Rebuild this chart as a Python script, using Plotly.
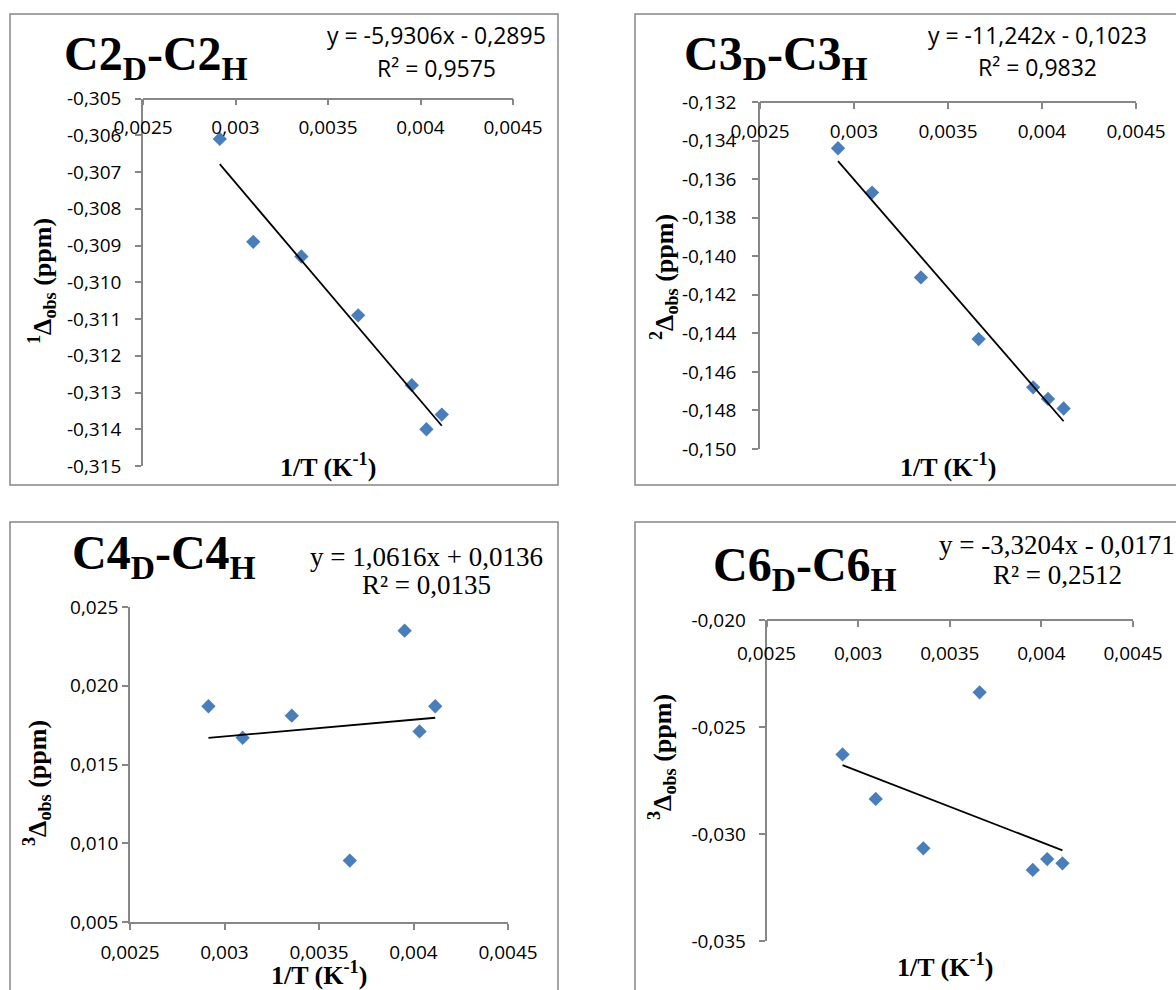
import plotly.graph_objects as go

# ---------------- data ----------------
inv_T = [0.002915, 0.003096, 0.003356, 0.003663, 0.003953, 0.004032, 0.004115]

delta_c2 = [-0.3061, -0.3089, -0.3093, -0.3109, -0.3128, -0.3140, -0.3136]
delta_c3 = [-0.1344, -0.1367, -0.1411, -0.1443, -0.1468, -0.1474, -0.1479]
delta_c4 = [0.0187, 0.0167, 0.0181, 0.0089, 0.0235, 0.0171, 0.0187]
delta_c6 = [-0.02628, -0.02836, -0.03067, -0.02338, -0.03168, -0.03117, -0.03137]

fit_slope = [-5.9306, -11.242, 1.0616, -3.3204]
fit_intercept = [-0.2895, -0.1023, 0.0136, -0.0171]
fit_r2 = [0.9575, 0.9832, 0.0135, 0.2512]

panel_titles = ["C2<sub>D</sub>-C2<sub>H</sub>", "C3<sub>D</sub>-C3<sub>H</sub>",
                "C4<sub>D</sub>-C4<sub>H</sub>", "C6<sub>D</sub>-C6<sub>H</sub>"]
y_titles = ["<sup>1</sup>Δ<sub>obs</sub> (ppm)", "<sup>2</sup>Δ<sub>obs</sub> (ppm)",
            "<sup>3</sup>Δ<sub>obs</sub> (ppm)", "<sup>3</sup>Δ<sub>obs</sub> (ppm)"]
x_title = "1/T (K<sup>-1</sup>)"

x_tick_vals = [0.0025, 0.003, 0.0035, 0.004, 0.0045]
x_tick_text = ["0,0025", "0,003", "0,0035", "0,004", "0,0045"]

y_tick_vals_c2 = [-0.305, -0.306, -0.307, -0.308, -0.309, -0.310,
                  -0.311, -0.312, -0.313, -0.314, -0.315]
y_tick_text_c2 = ["-0,305", "-0,306", "-0,307", "-0,308", "-0,309", "-0,310",
                  "-0,311", "-0,312", "-0,313", "-0,314", "-0,315"]
y_tick_vals_c3 = [-0.132, -0.134, -0.136, -0.138, -0.140,
                  -0.142, -0.144, -0.146, -0.148, -0.150]
y_tick_text_c3 = ["-0,132", "-0,134", "-0,136", "-0,138", "-0,140",
                  "-0,142", "-0,144", "-0,146", "-0,148", "-0,150"]
y_tick_vals_c4 = [0.005, 0.010, 0.015, 0.020, 0.025]
y_tick_text_c4 = ["0,005", "0,010", "0,015", "0,020", "0,025"]
y_tick_vals_c6 = [-0.020, -0.025, -0.030, -0.035]
y_tick_text_c6 = ["-0,020", "-0,025", "-0,030", "-0,035"]

series = [delta_c2, delta_c3, delta_c4, delta_c6]
y_ticks = [(y_tick_vals_c2, y_tick_text_c2), (y_tick_vals_c3, y_tick_text_c3),
           (y_tick_vals_c4, y_tick_text_c4), (y_tick_vals_c6, y_tick_text_c6)]

# ---------------- layout (pixels) ----------------
W, H = 1176, 990
SANS = "Open Sans"
SERIF = "Liberation Serif"
GRID = "#878787"
BLUE = "#4A7EBB"


def fx(p):
    return p / W


def fy(p):
    return 1 - p / H


# plot rectangles in pixels; xtop puts the x axis line along the top edge
plots = [
    dict(l=143, r=513, t=98.5, b=466, xtop=True, ystand=10, xstand=6),
    dict(l=760, r=1136, t=102, b=449, xtop=True, ystand=12, xstand=6),
    dict(l=130, r=508, t=607, b=922, xtop=False, ystand=0, xstand=6),
    dict(l=766.5, r=1133, t=620, b=941, xtop=True, ystand=9, xstand=10),
]
frames = [(10, 14, 558, 485), (635, 14, 1185, 485), (10, 522, 558, 1000), (635, 522, 1185, 1000)]
title_pos = [(62, 57), (682, 57), (70, 556), (711, 568)]
eq_pos = [(436, 35, 68), (1037, 35, 67), (426, 557, 585), (1057, 545, 575)]
eq_font = [(SANS, 23), (SANS, 23), (SERIF, 27), (SERIF, 27)]
xt_pos = [(328, 466), (948, 466), (319, 973), (945, 965)]
yt_pos = [(42, 281), (664, 277), (37, 783), (662, 757)]


def num(v):
    return str(v).replace(".", ",")


fig = go.Figure()
annotations = []
shapes = []
layout_axes = {}

for i in range(4):
    k = "" if i == 0 else str(i + 1)
    p = plots[i]
    ys = series[i]
    tv, tt = y_ticks[i]

    fig.add_trace(go.Scatter(
        x=inv_T, y=ys, mode="markers", xaxis="x" + k, yaxis="y" + k,
        marker=dict(symbol="diamond", size=11, color=BLUE, line=dict(width=0)),
        showlegend=False, hoverinfo="x+y"))

    # linear trend line from the fitted equation
    x_lo, x_hi = min(inv_T), max(inv_T)
    fig.add_trace(go.Scatter(
        x=[x_lo, x_hi],
        y=[fit_slope[i] * x_lo + fit_intercept[i], fit_slope[i] * x_hi + fit_intercept[i]],
        mode="lines", xaxis="x" + k, yaxis="y" + k,
        line=dict(color="black", width=1.8), showlegend=False, hoverinfo="skip"))

    xa = dict(
        domain=[fx(p["l"]), fx(p["r"])], range=[0.0025, 0.0045],
        tickvals=x_tick_vals, ticktext=x_tick_text,
        showline=True, linecolor=GRID, linewidth=1.5,
        ticks="outside", ticklen=6, tickwidth=1.5, tickcolor=GRID,
        showgrid=False, zeroline=False, side="bottom", automargin=False,
        tickfont=dict(family=SANS, size=19, color="black"),
        ticklabelstandoff=p["xstand"],
    )
    if p["xtop"]:
        xa.update(anchor="free", position=fy(p["t"]))
    else:
        xa.update(anchor="y" + k)
    ya = dict(
        domain=[fy(p["b"]), fy(p["t"])], range=[min(tv), max(tv)],
        tickvals=tv, ticktext=tt, anchor="x" + k,
        showline=True, linecolor=GRID, linewidth=1.5,
        ticks="outside", ticklen=6, tickwidth=1.5, tickcolor=GRID,
        showgrid=False, zeroline=False, automargin=False,
        tickfont=dict(family=SANS, size=19, color="black"),
        ticklabelstandoff=p["ystand"],
    )
    layout_axes["xaxis" + k] = xa
    layout_axes["yaxis" + k] = ya

    x0, y0, x1, y1 = frames[i]
    shapes.append(dict(type="rect", xref="paper", yref="paper",
                       x0=fx(x0), x1=fx(x1), y0=fy(y1), y1=fy(y0),
                       line=dict(color=GRID, width=1.5), fillcolor="rgba(0,0,0,0)"))

    tx, ty = title_pos[i]
    annotations.append(dict(text="<b>" + panel_titles[i] + "</b>", x=fx(tx), y=fy(ty),
                            xref="paper", yref="paper", xanchor="left", yanchor="middle",
                            showarrow=False, font=dict(family=SERIF, size=48, color="black")))

    ex, ey1, ey2 = eq_pos[i]
    sign = "-" if fit_intercept[i] < 0 else "+"
    eq_text = "y = " + num(fit_slope[i]) + "x " + sign + " " + num(abs(fit_intercept[i]))
    r2_text = "R² = " + num(fit_r2[i])
    ef, es = eq_font[i]
    for txt, yy in ((eq_text, ey1), (r2_text, ey2)):
        annotations.append(dict(text=txt, x=fx(ex), y=fy(yy), xref="paper", yref="paper",
                                xanchor="center", yanchor="middle", showarrow=False,
                                font=dict(family=ef, size=es, color="black")))

    ax_, ay_ = xt_pos[i]
    annotations.append(dict(text="<b>" + x_title + "</b>", x=fx(ax_), y=fy(ay_),
                            xref="paper", yref="paper", xanchor="center", yanchor="middle",
                            showarrow=False, font=dict(family=SERIF, size=26, color="black")))
    bx, by = yt_pos[i]
    annotations.append(dict(text="<b>" + y_titles[i] + "</b>", x=fx(bx), y=fy(by),
                            xref="paper", yref="paper", xanchor="center", yanchor="middle",
                            textangle=-90, showarrow=False,
                            font=dict(family=SERIF, size=26, color="black")))

fig.update_layout(
    width=W, height=H, margin=dict(l=0, r=0, t=0, b=0, pad=0, autoexpand=False),
    paper_bgcolor="white", plot_bgcolor="white",
    annotations=annotations, shapes=shapes, showlegend=False,
    **layout_axes,
)

fig.write_html("out.html")
